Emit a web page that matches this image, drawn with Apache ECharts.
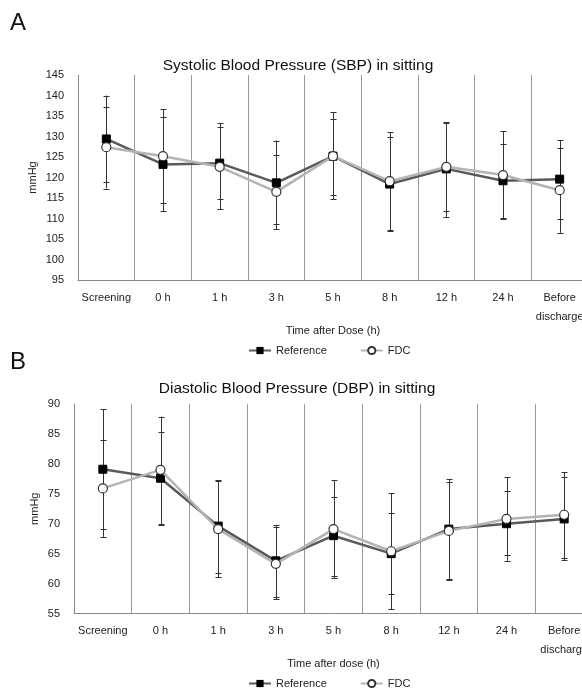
<!DOCTYPE html>
<html>
<head>
<meta charset="utf-8">
<script src="https://cdn.jsdelivr.net/npm/echarts@6/dist/echarts.min.js"></script>
<style>
html,body{margin:0;padding:0;background:#fff;width:582px;height:692px;overflow:hidden;}
#chart{width:600px;height:692px;}
</style>
</head>
<body>
<div id="chart"></div>
<script>
const categories = ['Screening','0 h','1 h','3 h','5 h','8 h','12 h','24 h','Before\ndischarge'];

const sbpRef   = [129.4,123.2,123.5,118.7,125.2,118.4,122.1,119.2,119.6];
const sbpRefHi = [140.0,134.8,133.2,129.0,136.0,130.0,133.3,128.2,129.1];
const sbpRefLo = [118.8,111.8,114.7,108.6,114.7,107.0,110.4,110.2,109.9];
const sbpFdc   = [127.4,125.2,122.6,116.5,125.2,119.1,122.6,120.6,116.9];
const sbpFdcHi = [137.3,136.6,132.4,125.6,134.3,131.0,133.5,131.3,127.2];
const sbpFdcLo = [117.3,113.9,112.3,107.4,115.8,107.2,111.9,109.8,106.5];

const dbpRef   = [79.1,77.6,69.6,63.8,68.0,65.0,69.1,70.0,70.8];
const dbpRefHi = [89.1,85.4,77.3,69.8,74.5,71.8,77.0,75.4,77.8];
const dbpRefLo = [69.1,69.8,61.8,57.8,61.3,58.2,60.7,64.8,63.9];
const dbpFdc   = [75.9,79.0,69.1,63.3,69.1,65.4,68.8,70.8,71.5];
const dbpFdcHi = [84.0,87.9,77.2,69.5,77.3,75.1,77.5,77.8,78.6];
const dbpFdcLo = [67.8,70.0,61.1,57.4,60.9,55.7,60.6,63.8,64.3];

const sbpAxis = {min:95, max:145, interval:5};
const dbpAxis = {min:55, max:90, interval:5};

const FONT = 'Liberation Sans, Arial, sans-serif';
const TXT = '#222';

function errData(lo, hi){ return lo.map((v,i)=>[i, v, hi[i]]); }
function errRender(params, api){
  const lo = api.coord([api.value(0), api.value(1)]);
  const hi = api.coord([api.value(0), api.value(2)]);
  const x = Math.round(lo[0]) + 0.5;
  const w = 3;
  const st = {stroke:'#333', lineWidth:1};
  return {type:'group', children:[
    {type:'line', shape:{x1:x,y1:lo[1],x2:x,y2:hi[1]}, style:st},
    {type:'line', shape:{x1:x-w,y1:Math.round(lo[1])+0.5,x2:x+w,y2:Math.round(lo[1])+0.5}, style:st},
    {type:'line', shape:{x1:x-w,y1:Math.round(hi[1])+0.5,x2:x+w,y2:Math.round(hi[1])+0.5}, style:st}
  ]};
}

function xAxisCfg(idx, name){
  return {
    type:'category', gridIndex:idx, data:categories, boundaryGap:true,
    name:name, nameLocation:'middle', nameGap:45, nameMoveOverlap:false,
    nameTextStyle:{fontFamily:FONT, fontSize:11, color:TXT},
    axisLine:{lineStyle:{color:'#888', width:1}},
    axisTick:{show:false},
    axisLabel:{fontFamily:FONT, fontSize:11, color:TXT, margin:8, lineHeight:19, interval:0},
    splitLine:{show:true, lineStyle:{color:'#999', width:1}}
  };
}
function yAxisCfg(idx, ax, gap){
  return {
    type:'value', gridIndex:idx, min:ax.min, max:ax.max, interval:ax.interval,
    name:'mmHg', nameLocation:'middle', nameGap:gap, nameRotate:90, nameMoveOverlap:false,
    nameTextStyle:{fontFamily:FONT, fontSize:11, color:TXT},
    axisLine:{show:true, lineStyle:{color:'#888', width:1}},
    axisTick:{show:false},
    axisLabel:{fontFamily:FONT, fontSize:11, color:TXT, margin:14},
    splitLine:{show:false}
  };
}
function refSeries(idx, data){
  return {name:'Reference', type:'line', xAxisIndex:idx, yAxisIndex:idx, data:data,
    symbol:'rect', symbolSize:8, z:3,
    lineStyle:{color:'#5a5a5a', width:2.5},
    itemStyle:{color:'#000', borderColor:'#000'}};
}
function fdcSeries(idx, data){
  return {name:'FDC', type:'line', xAxisIndex:idx, yAxisIndex:idx, data:data,
    symbol:'circle', symbolSize:9, z:4,
    lineStyle:{color:'#b4b4b4', width:2.5},
    itemStyle:{color:'#fff', borderColor:'#333', borderWidth:1.2}};
}
function errSeries(idx, lo, hi){
  return {type:'custom', xAxisIndex:idx, yAxisIndex:idx, data:errData(lo,hi), renderItem:errRender, z:2, silent:true};
}
function legendCfg(top){
  return {data:['Reference','FDC'], left:243, top:top, itemWidth:22, itemHeight:9, itemGap:33,
    textStyle:{fontFamily:FONT, fontSize:11, color:TXT}};
}

const chart = echarts.init(document.getElementById('chart'), null, {renderer:'canvas'});
chart.setOption({
  animation:false,
  backgroundColor:'#fff',
  textStyle:{fontFamily:FONT},
  grid:[
    {left:78, top:75, width:510, height:205},
    {left:74, top:404, width:519, height:209.5}
  ],
  xAxis:[xAxisCfg(0,'Time after Dose (h)'), xAxisCfg(1,'Time after dose (h)')],
  yAxis:[yAxisCfg(0,sbpAxis,40), yAxisCfg(1,dbpAxis,34)],
  legend:[legendCfg(340), legendCfg(673)],
  graphic:[
    {type:'text', left:10, top:11, style:{text:'A', font:'24px '+FONT, fill:'#111'}},
    {type:'text', left:10, top:350, style:{text:'B', font:'24px '+FONT, fill:'#111'}},
    {type:'text', x:298, y:66, style:{text:'Systolic Blood Pressure (SBP) in sitting', font:'15.5px '+FONT, fill:'#111', textAlign:'center', textVerticalAlign:'middle'}},
    {type:'text', x:297, y:389, style:{text:'Diastolic Blood Pressure (DBP) in sitting', font:'15.5px '+FONT, fill:'#111', textAlign:'center', textVerticalAlign:'middle'}}
  ],
  series:[
    errSeries(0, sbpRefLo, sbpRefHi),
    errSeries(0, sbpFdcLo, sbpFdcHi),
    refSeries(0, sbpRef),
    fdcSeries(0, sbpFdc),
    errSeries(1, dbpRefLo, dbpRefHi),
    errSeries(1, dbpFdcLo, dbpFdcHi),
    refSeries(1, dbpRef),
    fdcSeries(1, dbpFdc)
  ]
});
</script>
</body>
</html>
